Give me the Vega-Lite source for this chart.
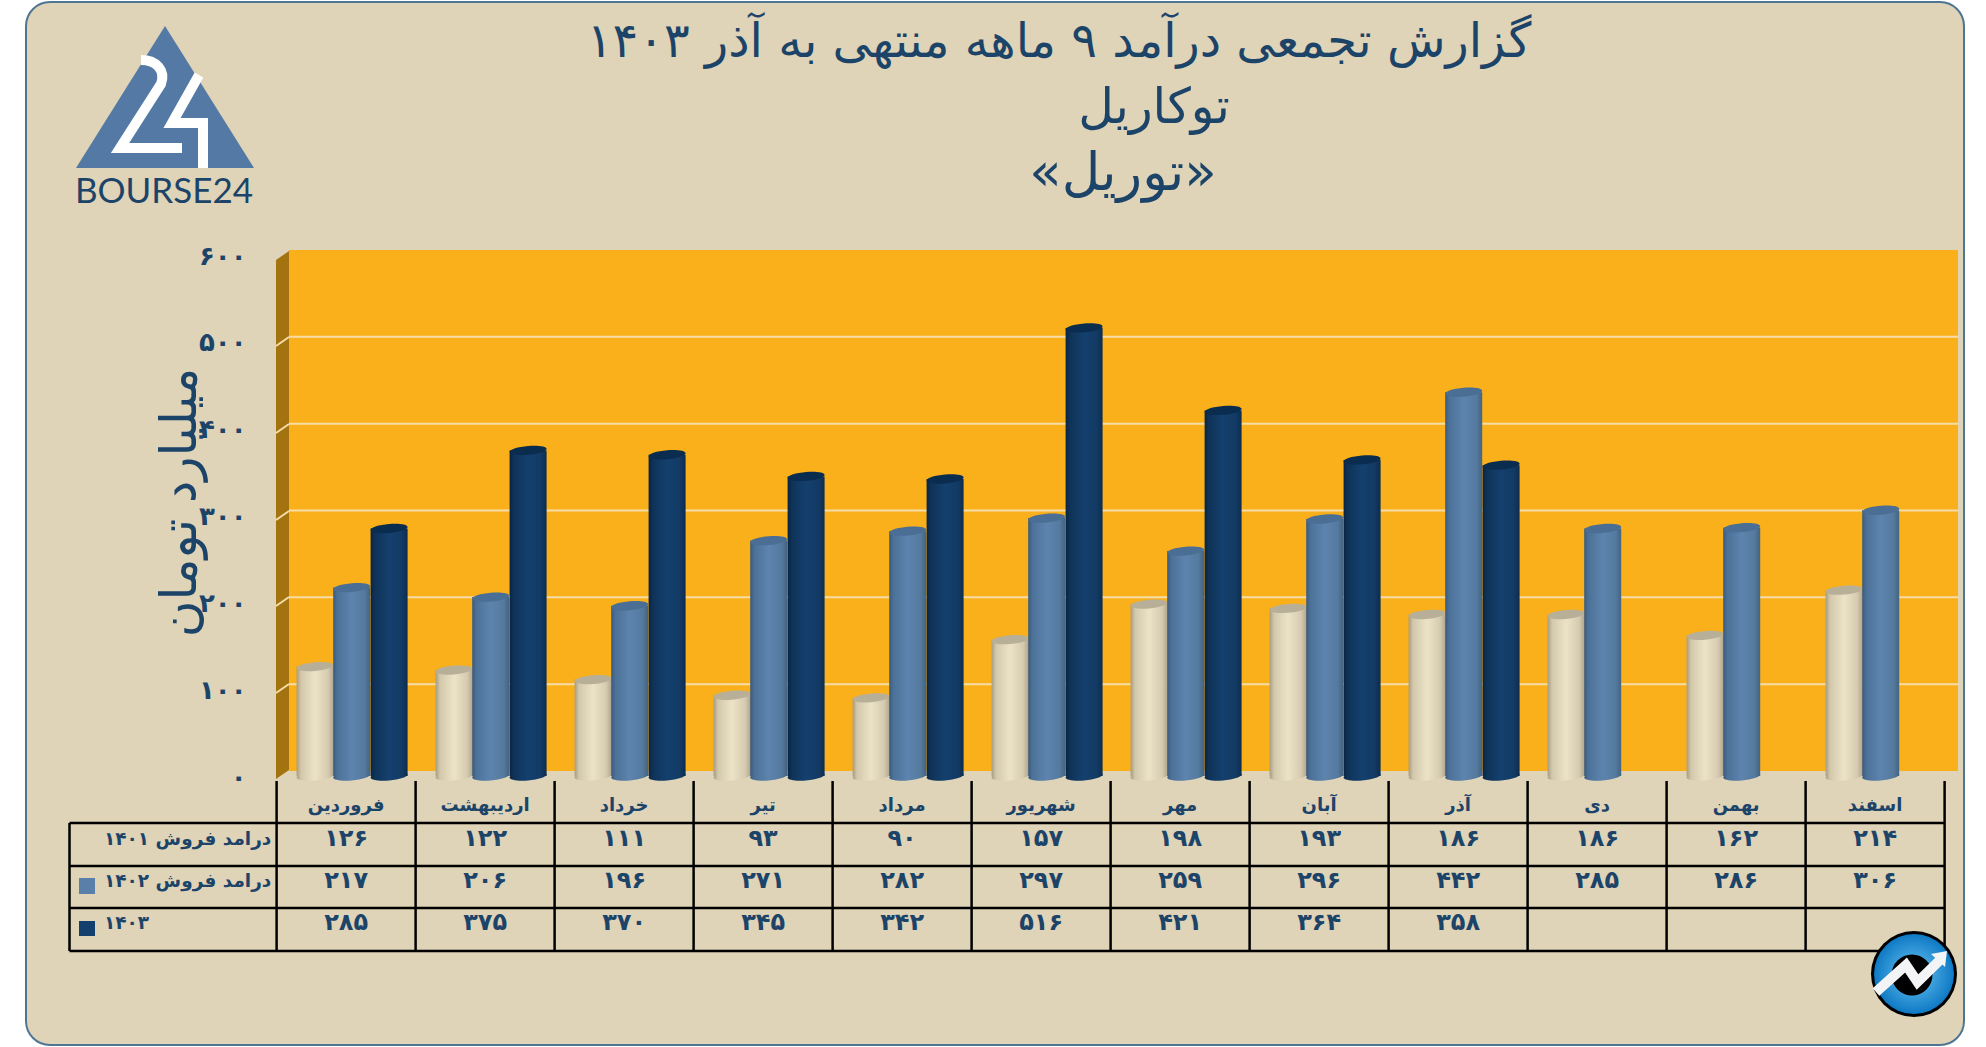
{
"$schema":"https://vega.github.io/schema/vega-lite/v6.json",
"width":1938,"height":1043,
"autosize":"none",
"padding":{"left":26,"top":2,"right":22,"bottom":2},
"background":"#ffffff",
"view":{"fill":"#DFD3B8","stroke":"#4E7692","strokeWidth":2,"cornerRadius":24},
"datasets":{
"rows":[
{"month":"فروردین","series":"1401","value":126,"label":"۱۲۶"},{"month":"اردیبهشت","series":"1401","value":122,"label":"۱۲۲"},{"month":"خرداد","series":"1401","value":111,"label":"۱۱۱"},{"month":"تیر","series":"1401","value":93,"label":"۹۳"},{"month":"مرداد","series":"1401","value":90,"label":"۹۰"},{"month":"شهریور","series":"1401","value":157,"label":"۱۵۷"},{"month":"مهر","series":"1401","value":198,"label":"۱۹۸"},{"month":"آبان","series":"1401","value":193,"label":"۱۹۳"},{"month":"آذر","series":"1401","value":186,"label":"۱۸۶"},{"month":"دی","series":"1401","value":186,"label":"۱۸۶"},{"month":"بهمن","series":"1401","value":162,"label":"۱۶۲"},{"month":"اسفند","series":"1401","value":214,"label":"۲۱۴"},
{"month":"فروردین","series":"1402","value":217,"label":"۲۱۷"},{"month":"اردیبهشت","series":"1402","value":206,"label":"۲۰۶"},{"month":"خرداد","series":"1402","value":196,"label":"۱۹۶"},{"month":"تیر","series":"1402","value":271,"label":"۲۷۱"},{"month":"مرداد","series":"1402","value":282,"label":"۲۸۲"},{"month":"شهریور","series":"1402","value":297,"label":"۲۹۷"},{"month":"مهر","series":"1402","value":259,"label":"۲۵۹"},{"month":"آبان","series":"1402","value":296,"label":"۲۹۶"},{"month":"آذر","series":"1402","value":442,"label":"۴۴۲"},{"month":"دی","series":"1402","value":285,"label":"۲۸۵"},{"month":"بهمن","series":"1402","value":286,"label":"۲۸۶"},{"month":"اسفند","series":"1402","value":306,"label":"۳۰۶"},
{"month":"فروردین","series":"1403","value":285,"label":"۲۸۵"},{"month":"اردیبهشت","series":"1403","value":375,"label":"۳۷۵"},{"month":"خرداد","series":"1403","value":370,"label":"۳۷۰"},{"month":"تیر","series":"1403","value":345,"label":"۳۴۵"},{"month":"مرداد","series":"1403","value":342,"label":"۳۴۲"},{"month":"شهریور","series":"1403","value":516,"label":"۵۱۶"},{"month":"مهر","series":"1403","value":421,"label":"۴۲۱"},{"month":"آبان","series":"1403","value":364,"label":"۳۶۴"},{"month":"آذر","series":"1403","value":358,"label":"۳۵۸"}
],
"grid":[{"v":100},{"v":200},{"v":300},{"v":400},{"v":500}],
"rowNames":[{"series":"1401","name":"درامد فروش ۱۴۰۱"},{"series":"1402","name":"درامد فروش ۱۴۰۲"},{"series":"1403","name":"۱۴۰۳"}],
"one":[{"k":1}]
},
"data":{"name":"rows"},
"resolve":{"scale":{"y":"independent"}},
"layer":[
{"layer":[
{"data":{"name":"one"},"mark":{"type":"rect","color":"#FAB01A","yOffset":-5,"y2Offset":-5},
 "encoding":{"x":{"value":263},"x2":{"value":1932},"y":{"datum":600,"type":"quantitative","scale":{"domain":[0,600],"range":[774,253],"nice":false},
   "axis":{"orient":"left","offset":-220,"values":[0,100,200,300,400,500,600],"domain":false,"ticks":false,"grid":false,"labelPadding":0,"labelOffset":1,"labelFont":"DejaVu Sans","labelFontWeight":"bold","labelFontSize":26,"labelColor":"#1C4468","labelExpr":"['۰','۱۰۰','۲۰۰','۳۰۰','۴۰۰','۵۰۰','۶۰۰'][datum.value/100]",
    "title":"میلیارد تومان","titleFont":"DejaVu Sans","titleFontSize":50,"titleFontWeight":"normal","titleColor":"#1C4468","titleAngle":-90,"titleX":-66,"titleY":500,"titleAlign":"center","titleBaseline":"middle"}},"y2":{"datum":0}}},
{"data":{"name":"grid"},"mark":{"type":"rule","color":"#F6DDA8","strokeWidth":2,"yOffset":-5},
 "encoding":{"x":{"value":263},"x2":{"value":1932},"y":{"field":"v","type":"quantitative"}}},
{"data":{"name":"one"},"mark":{"type":"point","shape":"M250,777L250,258L263,249L263,768Z","size":4,"filled":true,"fill":"#A3730F","opacity":1,"strokeWidth":0},"encoding":{"x":{"value":0},"y":{"value":0}}},
{"data":{"name":"one"},"mark":{"type":"point","shape":"M263,335L250,344M263,422L250,431M263,509L250,518M263,595L250,604M263,682L250,691","size":4,"filled":false,"stroke":"#F6DDA8","strokeWidth":2,"opacity":1},"encoding":{"x":{"value":0},"y":{"value":0}}},

{"transform":[{"filter":"datum.series=='1401'"}],"mark":{"type":"point","shape":"M-1,0.08C-1,-0.0526,-0.5523,-0.1958,0,-0.24C0.5523,-0.2842,1,-0.2126,1,-0.08C1,0.0526,0.5523,0.1958,0,0.24C-0.5523,0.2842,-1,0.2126,-1,0.08Z","size":1369,"xOffset":-31,"filled":true,"opacity":1,"strokeWidth":0,"fill":{"gradient":"linear","x1":0,"y1":0,"x2":1,"y2":0,"stops":[{"offset":0,"color":"#A59B80"},{"offset":0.12,"color":"#D3C8AB"},{"offset":0.5,"color":"#ECE3C7"},{"offset":0.85,"color":"#D6CBB0"},{"offset":1,"color":"#B0A68E"}]}},
 "encoding":{"x":{"field":"month","type":"nominal","scale":{"type":"band"}},"y":{"datum":0,"type":"quantitative"}}},
{"transform":[{"filter":"datum.series=='1401'"}],"mark":{"type":"bar","width":37,"xOffset":-31,"fill":{"gradient":"linear","x1":0,"y1":0,"x2":1,"y2":0,"stops":[{"offset":0,"color":"#A59B80"},{"offset":0.12,"color":"#D3C8AB"},{"offset":0.5,"color":"#ECE3C7"},{"offset":0.85,"color":"#D6CBB0"},{"offset":1,"color":"#B0A68E"}]}},
 "encoding":{"x":{"field":"month","type":"nominal","title":null,"sort":null,
   "scale":{"type":"band","domain":["فروردین","اردیبهشت","خرداد","تیر","مرداد","شهریور","مهر","آبان","آذر","دی","بهمن","اسفند"],"range":[250.6,1918.6],"paddingInner":0,"paddingOuter":0},
   "axis":{"orient":"bottom","offset":-240,"domain":false,"ticks":false,"grid":false,"labelAngle":0,"labelAlign":"center","labelFont":"DejaVu Sans","labelFontWeight":"bold","labelFontSize":18,"labelColor":"#1C4468","labelPadding":0,"labelBaseline":"middle","labelOverlap":false,"labelBound":false,"labelFlush":false}},
  "y":{"field":"value","type":"quantitative"}}},
{"transform":[{"filter":"datum.series=='1401'"}],"mark":{"type":"point","shape":"M-1,0.08C-1,-0.0526,-0.5523,-0.1958,0,-0.24C0.5523,-0.2842,1,-0.2126,1,-0.08C1,0.0526,0.5523,0.1958,0,0.24C-0.5523,0.2842,-1,0.2126,-1,0.08Z","size":1369,"xOffset":-31,"filled":true,"opacity":1,"strokeWidth":0,"fill":"#B8AF98"},
 "encoding":{"x":{"field":"month","type":"nominal","scale":{"type":"band"}},"y":{"field":"value","type":"quantitative"}}},

{"transform":[{"filter":"datum.series=='1402'"}],"mark":{"type":"point","shape":"M-1,0.08C-1,-0.0526,-0.5523,-0.1958,0,-0.24C0.5523,-0.2842,1,-0.2126,1,-0.08C1,0.0526,0.5523,0.1958,0,0.24C-0.5523,0.2842,-1,0.2126,-1,0.08Z","size":1369,"xOffset":5.6,"filled":true,"opacity":1,"strokeWidth":0,"fill":{"gradient":"linear","x1":0,"y1":0,"x2":1,"y2":0,"stops":[{"offset":0,"color":"#3A5A7C"},{"offset":0.12,"color":"#4D7299"},{"offset":0.5,"color":"#5D84AE"},{"offset":0.85,"color":"#557A9F"},{"offset":1,"color":"#44637F"}]}},
 "encoding":{"x":{"field":"month","type":"nominal","scale":{"type":"band"}},"y":{"datum":0,"type":"quantitative"}}},
{"transform":[{"filter":"datum.series=='1402'"}],"mark":{"type":"bar","width":37,"xOffset":5.6,"fill":{"gradient":"linear","x1":0,"y1":0,"x2":1,"y2":0,"stops":[{"offset":0,"color":"#3A5A7C"},{"offset":0.12,"color":"#4D7299"},{"offset":0.5,"color":"#5D84AE"},{"offset":0.85,"color":"#557A9F"},{"offset":1,"color":"#44637F"}]}},
 "encoding":{"x":{"field":"month","type":"nominal","scale":{"type":"band"}},"y":{"field":"value","type":"quantitative"}}},
{"transform":[{"filter":"datum.series=='1402'"}],"mark":{"type":"point","shape":"M-1,0.08C-1,-0.0526,-0.5523,-0.1958,0,-0.24C0.5523,-0.2842,1,-0.2126,1,-0.08C1,0.0526,0.5523,0.1958,0,0.24C-0.5523,0.2842,-1,0.2126,-1,0.08Z","size":1369,"xOffset":5.6,"filled":true,"opacity":1,"strokeWidth":0,"fill":"#4A6E94"},
 "encoding":{"x":{"field":"month","type":"nominal","scale":{"type":"band"}},"y":{"field":"value","type":"quantitative"}}},

{"transform":[{"filter":"datum.series=='1403'"}],"mark":{"type":"point","shape":"M-1,0.08C-1,-0.0526,-0.5523,-0.1958,0,-0.24C0.5523,-0.2842,1,-0.2126,1,-0.08C1,0.0526,0.5523,0.1958,0,0.24C-0.5523,0.2842,-1,0.2126,-1,0.08Z","size":1369,"xOffset":43,"filled":true,"opacity":1,"strokeWidth":0,"fill":{"gradient":"linear","x1":0,"y1":0,"x2":1,"y2":0,"stops":[{"offset":0,"color":"#0A2441"},{"offset":0.12,"color":"#0F3358"},{"offset":0.5,"color":"#14406E"},{"offset":0.85,"color":"#123A64"},{"offset":1,"color":"#0D2C4D"}]}},
 "encoding":{"x":{"field":"month","type":"nominal","scale":{"type":"band"}},"y":{"datum":0,"type":"quantitative"}}},
{"transform":[{"filter":"datum.series=='1403'"}],"mark":{"type":"bar","width":37,"xOffset":43,"fill":{"gradient":"linear","x1":0,"y1":0,"x2":1,"y2":0,"stops":[{"offset":0,"color":"#0A2441"},{"offset":0.12,"color":"#0F3358"},{"offset":0.5,"color":"#14406E"},{"offset":0.85,"color":"#123A64"},{"offset":1,"color":"#0D2C4D"}]}},
 "encoding":{"x":{"field":"month","type":"nominal","scale":{"type":"band"}},"y":{"field":"value","type":"quantitative"}}},
{"transform":[{"filter":"datum.series=='1403'"}],"mark":{"type":"point","shape":"M-1,0.08C-1,-0.0526,-0.5523,-0.1958,0,-0.24C0.5523,-0.2842,1,-0.2126,1,-0.08C1,0.0526,0.5523,0.1958,0,0.24C-0.5523,0.2842,-1,0.2126,-1,0.08Z","size":1369,"xOffset":43,"filled":true,"opacity":1,"strokeWidth":0,"fill":"#0A2C4F"},
 "encoding":{"x":{"field":"month","type":"nominal","scale":{"type":"band"}},"y":{"field":"value","type":"quantitative"}}}
]},
{"layer":[
{"transform":[{"filter":"datum.series=='1401'"}],"mark":{"type":"rule","color":"#000000","strokeWidth":2.5},
 "encoding":{"x":{"field":"month","type":"nominal","bandPosition":0,"scale":{"type":"band"}},"y":{"value":779},"y2":{"value":949}}},
{"data":{"name":"one"},"mark":{"type":"rule","color":"#000000","strokeWidth":2.5},
 "encoding":{"x":{"datum":"اسفند","type":"nominal","bandPosition":1,"scale":{"type":"band"}},"y":{"value":779},"y2":{"value":949}}},
{"data":{"name":"one"},"mark":{"type":"point","shape":"M43.5,821L1919,821M43.5,864L1919,864M43.5,906L1919,906M43.5,949L1919,949M43.5,821L43.5,949","size":4,"filled":false,"stroke":"#000000","strokeWidth":2.5,"opacity":1},
 "encoding":{"x":{"value":0},"y":{"value":0}}},
{"mark":{"type":"text","font":"DejaVu Sans","fontWeight":"bold","fontSize":24,"color":"#1C4468"},
 "encoding":{"x":{"field":"month","type":"nominal","scale":{"type":"band"}},
  "y":{"field":"series","type":"nominal","axis":null,"scale":{"type":"point","domain":["h","1401","1402","1403"],"range":[795,921],"padding":0}},
  "text":{"field":"label"}}},
{"data":{"name":"rowNames"},"mark":{"type":"text","font":"DejaVu Sans","fontWeight":"bold","fontSize":18.5,"color":"#1C4468","align":"left"},
 "encoding":{"x":{"value":78},"y":{"field":"series","type":"nominal"},"text":{"field":"name"}}}
]},
{"data":{"name":"one"},"mark":{"type":"point","shape":"M53,413L69,413L69,429L53,429Z","size":4,"filled":true,"fill":"#5A7FA8","opacity":1,"strokeWidth":0},"encoding":{"x":{"value":0},"y":{"value":463}}},
{"data":{"name":"one"},"mark":{"type":"point","shape":"M53,456L69,456L69,471L53,471Z","size":4,"filled":true,"fill":"#14406E","opacity":1,"strokeWidth":0},"encoding":{"x":{"value":0},"y":{"value":463}}},
{"data":{"values":[{"t":"گزارش تجمعی درآمد ۹ ماهه منتهی به آذر ۱۴۰۳"}]},"mark":{"type":"text","font":"DejaVu Sans","fontSize":48,"color":"#1C4468"},"encoding":{"x":{"value":1033},"y":{"value":41},"text":{"field":"t"}}},
{"data":{"values":[{"t":"توکاریل"}]},"mark":{"type":"text","font":"DejaVu Sans","fontSize":49,"color":"#1C4468"},"encoding":{"x":{"value":1128},"y":{"value":106},"text":{"field":"t"}}},
{"data":{"values":[{"t":"«توریل»"}]},"mark":{"type":"text","font":"DejaVu Sans","fontSize":53,"color":"#1C4468"},"encoding":{"x":{"value":1097},"y":{"value":172},"text":{"field":"t"}}},
{"data":{"name":"one"},"mark":{"type":"point","shape":"M139,24L228,166L50,166Z","size":4,"filled":true,"fill":"#5379A4","opacity":1,"strokeWidth":0},"encoding":{"x":{"value":0},"y":{"value":0}}},
{"data":{"name":"one"},"mark":{"type":"point","shape":"M115,58C130,58,140,68,135,82L94,146L156,146M173,73L146,121L177,121L177,166","size":4,"filled":false,"stroke":"#FFFFFF","strokeWidth":10,"opacity":1},"encoding":{"x":{"value":0},"y":{"value":0}}},
{"data":{"values":[{"t":"BOURSE24"}]},"mark":{"type":"text","font":"Lato","fontSize":35,"fontWeight":400,"color":"#1C4468"},"encoding":{"x":{"value":138},"y":{"value":190},"text":{"field":"t"}}},
{"data":{"name":"one"},"mark":{"type":"point","shape":"circle","size":7396,"filled":true,"fill":"#000000","opacity":1,"strokeWidth":0},"encoding":{"x":{"value":1888},"y":{"value":972}}},
{"data":{"name":"one"},"mark":{"type":"point","shape":"circle","size":6400,"filled":true,"opacity":1,"strokeWidth":0,"fill":{"gradient":"radial","x1":0.5,"y1":0.5,"r1":0,"x2":0.5,"y2":0.5,"r2":0.5,"stops":[{"offset":0,"color":"#6CC6F5"},{"offset":1,"color":"#0E79C4"}]}},"encoding":{"x":{"value":1888},"y":{"value":972}}},
{"data":{"name":"one"},"mark":{"type":"point","shape":"circle","size":1681,"filled":true,"fill":"#000000","opacity":1,"strokeWidth":0},"encoding":{"x":{"value":1886},"y":{"value":973}}},
{"data":{"name":"one"},"mark":{"type":"point","shape":"M1850,990L1880,963L1891.5,980L1914,958","size":4,"filled":false,"stroke":"#F2F4F6","strokeWidth":10,"opacity":1},"encoding":{"x":{"value":0},"y":{"value":0}}},
{"data":{"name":"one"},"mark":{"type":"point","shape":"M1921,949L1905,952L1919,965Z","size":4,"filled":true,"fill":"#F2F4F6","opacity":1,"strokeWidth":0},"encoding":{"x":{"value":0},"y":{"value":0}}}
]
}
